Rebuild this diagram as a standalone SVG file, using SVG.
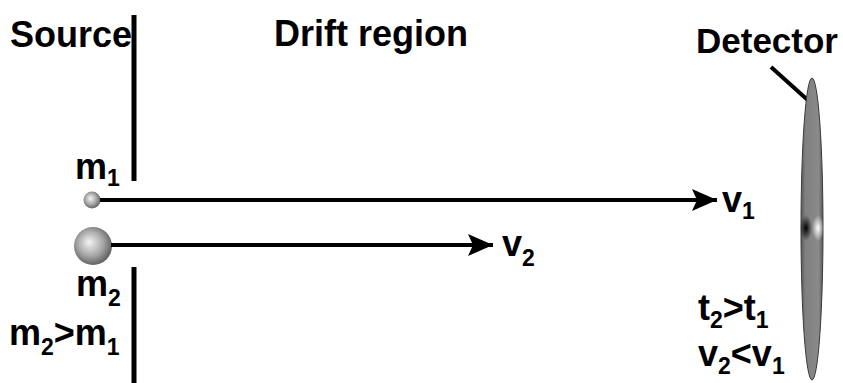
<svg xmlns="http://www.w3.org/2000/svg" width="843" height="383" viewBox="0 0 843 383">
  <style>
    .t { font-family: "Liberation Sans", Arial, sans-serif; font-weight: bold; font-size: 36px; fill: #000; }
    .s { font-size: 23px; }
    .wall { stroke: #000; stroke-width: 5; }
    .beam { stroke: #000; stroke-width: 4; fill: none; }
  </style>
  <defs>
    <marker id="head" markerUnits="userSpaceOnUse" markerWidth="26" markerHeight="22" refX="25" refY="11" orient="auto">
      <path d="M0,0 L25,11 L0,22 L5,11 Z" fill="#000"/>
    </marker>
    <radialGradient id="ball" cx="0.45" cy="0.45" r="0.6" fx="0.4" fy="0.4">
      <stop offset="0" stop-color="#f4f4f4"/>
      <stop offset="0.55" stop-color="#a8a8a8"/>
      <stop offset="1" stop-color="#555"/>
    </radialGradient>
    <linearGradient id="plate" x1="0" y1="0" x2="1" y2="0">
      <stop offset="0" stop-color="#5a5a5a"/>
      <stop offset="0.2" stop-color="#808080"/>
      <stop offset="0.8" stop-color="#8a8a8a"/>
      <stop offset="1" stop-color="#5a5a5a"/>
    </linearGradient>
    <radialGradient id="dark" cx="0.5" cy="0.5" r="0.5">
      <stop offset="0" stop-color="#000" stop-opacity="1"/>
      <stop offset="1" stop-color="#000" stop-opacity="0"/>
    </radialGradient>
    <radialGradient id="light" cx="0.5" cy="0.5" r="0.5">
      <stop offset="0" stop-color="#fff" stop-opacity="1"/>
      <stop offset="1" stop-color="#fff" stop-opacity="0"/>
    </radialGradient>
  </defs>

  <rect width="843" height="383" fill="#fff"/>

  <!-- region titles -->
  <g id="title-source"><text class="t" x="10" y="47">Source</text></g>
  <g id="title-drift"><text class="t" x="274" y="46">Drift region</text></g>

  <!-- source walls with the exit slit -->
  <g id="wall">
    <line class="wall" x1="134" y1="15" x2="134" y2="181"/>
    <line class="wall" x1="134" y1="267" x2="134" y2="383"/>
  </g>

  <!-- ions -->
  <g id="ion-m1">
    <circle cx="92" cy="200" r="8.5" fill="url(#ball)"/>
    <text class="t" x="75" y="179">m<tspan class="s" dy="7">1</tspan></text>
  </g>
  <g id="ion-m2">
    <circle cx="93" cy="246" r="19" fill="url(#ball)"/>
    <text class="t" x="76" y="296">m<tspan class="s" dy="10">2</tspan></text>
  </g>
  <g id="mass-relation">
    <text class="t" x="9" y="345">m<tspan class="s" dy="10">2</tspan><tspan dy="-10">&gt;m</tspan><tspan class="s" dy="10">1</tspan></text>
  </g>

  <!-- flight paths -->
  <g id="connectors">
    <line class="beam" x1="100" y1="200" x2="717" y2="200" marker-end="url(#head)"/>
    <line class="beam" x1="111" y1="245" x2="493" y2="245" marker-end="url(#head)"/>
    <line class="beam" x1="771" y1="67" x2="811" y2="103"/>
  </g>

  <g id="label-v1"><text class="t" x="722" y="212">v<tspan class="s" dy="7">1</tspan></text></g>
  <g id="label-v2"><text class="t" x="502" y="256">v<tspan class="s" dy="10">2</tspan></text></g>

  <!-- detector plate -->
  <g id="detector">
    <ellipse cx="812" cy="229" rx="11" ry="151" fill="url(#plate)" stroke="#3a3a3a" stroke-width="1"/>
    <ellipse cx="806" cy="228" rx="6" ry="13" fill="url(#dark)"/>
    <ellipse cx="818" cy="228" rx="6" ry="13" fill="url(#light)"/>
    <text class="t" x="696" y="53" style="font-size:35px">Detector</text>
  </g>

  <g id="time-relation">
    <text class="t" x="698" y="320">t<tspan class="s" dy="8">2</tspan><tspan dy="-8">&gt;t</tspan><tspan class="s" dy="8">1</tspan></text>
  </g>
  <g id="speed-relation">
    <text class="t" x="698" y="366">v<tspan class="s" dy="8">2</tspan><tspan dy="-8">&lt;v</tspan><tspan class="s" dy="8">1</tspan></text>
  </g>
</svg>
